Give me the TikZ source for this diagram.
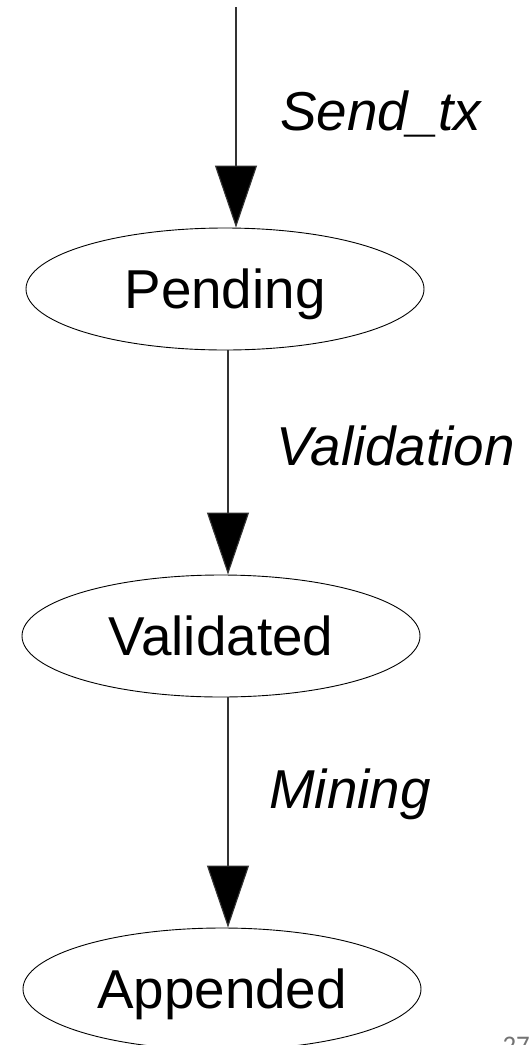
\documentclass[tikz,border=0pt]{standalone}
\usepackage{fontspec}
\setmainfont{Liberation Sans}
\newfontfamily\pagefont{Carlito}
\usetikzlibrary{shapes.geometric,arrows.meta}
\tikzset{
  statebox/.style={ellipse, draw=black, line width=0.9bp, minimum width=398bp, minimum height=122bp,
    inner sep=0pt, font=\fontsize{55}{60}\selectfont, text height=38bp, text depth=0bp},
  tlabel/.style={inner sep=0pt, anchor=base west, font=\fontsize{55}{60}\selectfont\itshape},
  conn/.style={draw=black!80, line width=1.1bp, -{Triangle[width=42bp,length=62bp,fill=black]}},
}
\begin{document}
\begin{tikzpicture}[x=1bp,y=-1bp]
\useasboundingbox (0,0) rectangle (531,1045);
\clip (0,0) rectangle (531,1045);
\fill[white] (0,0) rectangle (531,1045);
\node[statebox] (pend) at (225,289) {Pending};
\node[statebox] (val) at (221,636) {Validated};
\node[statebox] (app) at (222,989) {Appended};
\coordinate (start) at (236,7);
\coordinate (ax) at (228,0);
\draw[conn] (start) -- (start |- pend.north);
\draw[conn] (ax |- pend.south) -- (ax |- val.north);
\draw[conn] (ax |- val.south) -- (ax |- app.north);
\node[tlabel] (l1) at (280,130) {Send\_tx};
\node[tlabel] (l2) at (276,465) {Validation};
\node[tlabel] (l3) at (269,808) {Mining};
\node[inner sep=0pt, anchor=base east, text=black!55, font=\pagefont\fontsize{27}{30}\selectfont] (pg) at (530,1054) {27};
\end{tikzpicture}
\end{document}
